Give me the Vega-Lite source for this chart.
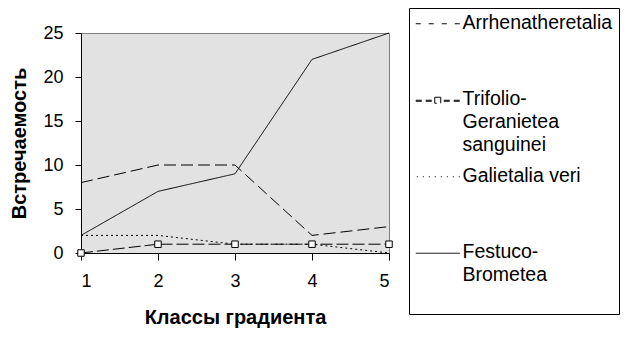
{
  "$schema": "https://vega.github.io/schema/vega-lite/v6.json",
  "width": 308,
  "height": 220,
  "autosize": {"type": "none"},
  "padding": {"left": 81, "top": 33, "right": 240, "bottom": 86},
  "background": "white",
  "config": {
    "view": {"fill": "#e2e2e2", "stroke": "#808080", "strokeWidth": 1},
    "font": "Liberation Sans",
    "axis": {
      "domainColor": "black", "tickColor": "black", "labelColor": "black", "titleColor": "black",
      "labelFont": "Liberation Sans", "titleFont": "Liberation Sans",
      "labelFontSize": 18, "titleFontSize": 20, "titleFontWeight": "bold", "grid": false
    }
  },
  "data": {
    "values": [
      {"x": 1, "y": 8, "series": "Arrhenatheretalia"},
      {"x": 2, "y": 10, "series": "Arrhenatheretalia"},
      {"x": 3, "y": 10, "series": "Arrhenatheretalia"},
      {"x": 4, "y": 2, "series": "Arrhenatheretalia"},
      {"x": 5, "y": 3, "series": "Arrhenatheretalia"},
      {"x": 1, "y": 0, "series": "Trifolio-Geranietea sanguinei"},
      {"x": 2, "y": 1, "series": "Trifolio-Geranietea sanguinei"},
      {"x": 3, "y": 1, "series": "Trifolio-Geranietea sanguinei"},
      {"x": 4, "y": 1, "series": "Trifolio-Geranietea sanguinei"},
      {"x": 5, "y": 1, "series": "Trifolio-Geranietea sanguinei"},
      {"x": 1, "y": 2, "series": "Galietalia veri"},
      {"x": 2, "y": 2, "series": "Galietalia veri"},
      {"x": 3, "y": 1, "series": "Galietalia veri"},
      {"x": 4, "y": 1, "series": "Galietalia veri"},
      {"x": 5, "y": 0, "series": "Galietalia veri"},
      {"x": 1, "y": 2, "series": "Festuco-Brometea"},
      {"x": 2, "y": 7, "series": "Festuco-Brometea"},
      {"x": 3, "y": 9, "series": "Festuco-Brometea"},
      {"x": 4, "y": 22, "series": "Festuco-Brometea"},
      {"x": 5, "y": 25, "series": "Festuco-Brometea"}
    ]
  },
  "encoding": {
    "x": {
      "field": "x", "type": "quantitative",
      "scale": {"domain": [1, 5], "nice": false, "zero": false},
      "axis": {"values": [1, 2, 3, 4, 5], "format": "d", "tickSize": 7, "labelPadding": 12, "title": "Классы градиента", "titlePadding": 17}
    },
    "y": {
      "field": "y", "type": "quantitative",
      "scale": {"domain": [0, 25], "nice": false},
      "axis": {"values": [0, 5, 10, 15, 20, 25], "tickSize": 6, "labelPadding": 12, "title": "Встречаемость", "titlePadding": 13}
    }
  },
  "layer": [
    {
      "mark": {"type": "line", "strokeWidth": 1},
      "encoding": {
        "color": {
          "field": "series", "type": "nominal",
          "scale": {"domain": ["Arrhenatheretalia", "Trifolio-Geranietea sanguinei", "Galietalia veri", "Festuco-Brometea"], "range": ["black", "black", "black", "black"]},
          "legend": {
            "title": null,
            "orient": "none",
            "legendX": 328,
            "legendY": -25,
            "direction": "vertical",
            "strokeColor": "black",
            "fillColor": "white",
            "padding": 6,
            "rowPadding": 9.5,
            "symbolSize": 16,
            "symbolOffset": 20,
            "labelOffset": 8,
            "labelFont": "Liberation Sans",
            "labelFontSize": 19.5,
            "labelColor": "black",
            "labelLimit": 300,
            "labelBaseline": "top",
            "labelExpr": "datum.label === 'Arrhenatheretalia' ? ['Arrhenatheretalia', ' ', ' '] : datum.label === 'Trifolio-Geranietea sanguinei' ? ['Trifolio-', 'Geranietea', 'sanguinei'] : datum.label === 'Galietalia veri' ? ['Galietalia veri', ' ', ' '] : ['Festuco-', 'Brometea', ' ']",
            "encode": {
              "labels": {"update": {"lineHeight": {"value": 23}, "dy": {"value": -10}}},
              "symbols": {
                "update": {
                  "shape": {"signal": "datum.value === 'Arrhenatheretalia' ? 'M-14.5,0H-12M-8,0H-5.5M-1.5,0H1M5,0H7.5' : datum.value === 'Trifolio-Geranietea sanguinei' ? 'M-14.5,0H-11.5M-9.5,0H-6.5M-0.5,0H2.5M4.5,0H7.5M-14.5,0.5H-11.5M-9.5,0.5H-6.5M-0.5,0.5H2.5M4.5,0.5H7.5M-5,-1.5H-2V1.5H-5Z' : datum.value === 'Galietalia veri' ? 'M-14,0H-13.5M-11,0H-10.5M-8,0H-7.5M-5,0H-4.5M-2,0H-1.5M1,0H1.5M4,0H4.5M7,0H7.5' : 'M-14.5,0H7.5'"},
                  "stroke": {"value": "black"},
                  "fill": {"value": "white"},
                  "fillOpacity": {"value": 1},
                  "strokeWidth": {"value": 1},
                  "opacity": {"value": 1}
                }
              }
            }
          }
        },
        "strokeDash": {
          "field": "series", "type": "nominal",
          "scale": {"domain": ["Arrhenatheretalia", "Trifolio-Geranietea sanguinei", "Galietalia veri", "Festuco-Brometea"], "range": [[12, 5], [12, 4], [2, 3], [1, 0]]},
          "legend": null
        }
      }
    },
    {
      "transform": [{"filter": "datum.series === 'Trifolio-Geranietea sanguinei'"}],
      "mark": {"type": "point", "shape": "square", "size": 42, "filled": true, "fill": "white", "stroke": "black", "strokeWidth": 1, "opacity": 1}
    }
  ]
}
